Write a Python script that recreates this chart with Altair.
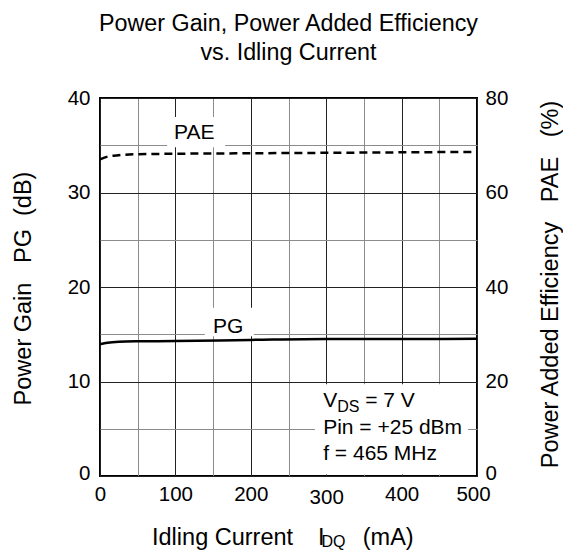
import altair as alt
import pandas as pd

FONT = "Liberation Sans"
NB = "\u00a0"

# ---- data ----
idq_ma = [0, 10, 25, 50, 100, 200, 300, 400, 500]
pg_db = [13.95, 14.1, 14.2, 14.25, 14.28, 14.4, 14.5, 14.5, 14.52]
pae_pct = [67.0, 67.6, 67.9, 68.1, 68.2, 68.3, 68.4, 68.5, 68.6]

x_tick_values = list(range(0, 501, 50))
y_left_values = list(range(0, 41, 5))
y_right_values = [0, 20, 40, 60, 80]

# curve labels (data coordinates)
curve_label_text = ["PAE", "PG"]
curve_label_x = [125, 170]
curve_label_y = [35.7, 15.1]

# white boxes behind labels (data coordinates)
box_x = [89, 139, 285]
box_x2 = [166, 204, 488]
box_y = [34.8, 14.8, 0.15]
box_y2 = [38.0, 17.8, 9.7]

# condition text
cond_x = 296
cond_lines = ["Pin = +25 dBm", "f = 465 MHz"]
cond_y = [4.4, 1.67]
vds_y = 7.26

# x-axis title pieces (placed in data units, below the plot)
xtitle_text = ["Idling Current", "I", "(mA)"]
xtitle_x = [69.0, 289.0, 348.5]
xtitle_y = -7.3
xtitle_sub = "DQ"
xtitle_sub_x = 293.8
xtitle_sub_y = -7.5

title_lines = ["Power Gain, Power Added Efficiency", "vs. Idling Current"]
y_left_title = "Power Gain" + NB * 3 + "PG" + NB * 2 + "(dB)"
y_right_title = "Power Added Efficiency" + NB * 3 + "PAE" + NB * 3 + "(%)"

xscale = alt.Scale(domain=[0, 500], nice=False, zero=False)
yscale = alt.Scale(domain=[0, 40], nice=False, zero=False)
y2scale = alt.Scale(domain=[0, 80], nice=False, zero=False)

x_axis = alt.Axis(
    values=x_tick_values,
    labelExpr="datum.value % 100 === 0 ? datum.label : ''",
    grid=True,
    gridColor=alt.condition("datum.value % 100 === 0", alt.value("#222222"), alt.value("#8c8c8c")),
    gridWidth=1,
    ticks=False,
    domain=False,
    labelFontSize=20.5,
    labelFont=FONT,
    labelColor="black",
    labelPadding=alt.condition("datum.value === 300", alt.value(11), alt.value(8)),
    labelOffset=alt.condition("datum.value === 500", alt.value(-4), alt.value(0)),
    labelFlush=False,
    title="",
)

y_axis = alt.Axis(
    values=y_left_values,
    labelExpr="datum.value % 10 === 0 ? datum.label : ''",
    grid=True,
    gridColor=alt.condition("datum.value % 10 === 0", alt.value("#222222"), alt.value("#8c8c8c")),
    gridWidth=1,
    ticks=False,
    domain=False,
    labelFontSize=20.5,
    labelFont=FONT,
    labelColor="black",
    labelPadding=10,
    labelOffset=alt.condition("datum.value === 0", alt.value(-3), alt.value(0)),
    title=y_left_title,
    titleFont=FONT,
    titleFontSize=23.5,
    titleFontWeight="normal",
    titleColor="black",
    titleAngle=270,
    titleX=-77,
    titleY=190,
    titleAlign="center",
    titleBaseline="middle",
)

y2_axis = alt.Axis(
    orient="right",
    values=y_right_values,
    grid=False,
    ticks=False,
    domain=False,
    labelFontSize=20.5,
    labelFont=FONT,
    labelColor="black",
    labelPadding=8,
    labelOffset=alt.condition("datum.value === 0", alt.value(-3), alt.value(0)),
    title=y_right_title,
    titleFont=FONT,
    titleFontSize=23.5,
    titleFontWeight="normal",
    titleColor="black",
    titleAngle=270,
    titleX=73,
    titleY=186,
    titleAlign="center",
    titleBaseline="middle",
)

curves = pd.DataFrame({"x": idq_ma, "pg": pg_db, "pae": pae_pct})
boxes_df = pd.DataFrame({"x": box_x, "x2": box_x2, "y": box_y, "y2": box_y2})
labels_df = pd.DataFrame({"x": curve_label_x, "y": curve_label_y, "t": curve_label_text})
cond_df = pd.DataFrame({"x": [cond_x] * len(cond_lines), "y": cond_y, "t": cond_lines})
vds_df = pd.DataFrame({"x": [cond_x], "y": [vds_y], "a": ["V"], "b": ["DS"], "c": ["= 7 V"]})
xt_df = pd.DataFrame({"x": xtitle_x, "y": [xtitle_y] * len(xtitle_text), "t": xtitle_text})
xsub_df = pd.DataFrame({"x": [xtitle_sub_x], "y": [xtitle_sub_y], "t": [xtitle_sub]})

# every layer carries the same x axis so the shared axis merges cleanly
XENC = dict(scale=xscale, axis=x_axis)
NOAX_Y = dict(scale=yscale, axis=None)

boxes = alt.Chart(boxes_df).mark_rect(color="white").encode(
    x=alt.X("x:Q", **XENC),
    x2="x2:Q",
    y=alt.Y("y:Q", scale=yscale, axis=y_axis),
    y2="y2:Q",
)

pg_line = alt.Chart(curves).mark_line(color="black", strokeWidth=2.5, interpolate="monotone").encode(
    x=alt.X("x:Q", **XENC),
    y=alt.Y("pg:Q", **NOAX_Y),
)

pae_line = alt.Chart(curves).mark_line(
    color="black", strokeWidth=2.5, strokeDash=[8, 5], interpolate="monotone"
).encode(
    x=alt.X("x:Q", **XENC),
    y=alt.Y("pae:Q", scale=y2scale, axis=y2_axis),
)


def text_layer(df, size, align="left", **kw):
    return alt.Chart(df).mark_text(
        font=FONT, fontSize=size, color="black", align=align, baseline="alphabetic", **kw
    ).encode(
        x=alt.X("x:Q", **XENC),
        y=alt.Y("y:Q", **NOAX_Y),
        text="t:N",
    )


labels = text_layer(labels_df, 21, align="center")
cond_text = text_layer(cond_df, 21)
xt_main = text_layer(xt_df, 23.5)
xt_sub = text_layer(xsub_df, 16)

vds_base = alt.Chart(vds_df).encode(
    x=alt.X("x:Q", **XENC),
    y=alt.Y("y:Q", **NOAX_Y),
)
vds_a = vds_base.mark_text(font=FONT, fontSize=21, color="black", align="left", baseline="alphabetic").encode(text="a:N")
vds_b = vds_base.mark_text(font=FONT, fontSize=16, color="black", align="left", baseline="alphabetic", dx=14, dy=5).encode(text="b:N")
vds_c = vds_base.mark_text(font=FONT, fontSize=21, color="black", align="left", baseline="alphabetic", dx=42).encode(text="c:N")

chart = (
    alt.layer(boxes, pg_line, pae_line, labels, cond_text, vds_a, vds_b, vds_c, xt_main, xt_sub)
    .resolve_scale(y="independent")
    .properties(
        width=377,
        height=378,
        autosize=alt.AutoSizeParams(type="none"),
        padding={"left": 92, "top": 90, "right": 86, "bottom": 74},
        title=alt.TitleParams(
            text=title_lines,
            font=FONT,
            fontSize=23.3,
            fontWeight="normal",
            color="black",
            anchor="middle",
            offset=23,
            lineHeight=29,
        ),
        background="white",
    )
    .configure_view(stroke="black", strokeWidth=2)
)

chart.save("out.html", embed_options={"renderer": "svg", "actions": False})
